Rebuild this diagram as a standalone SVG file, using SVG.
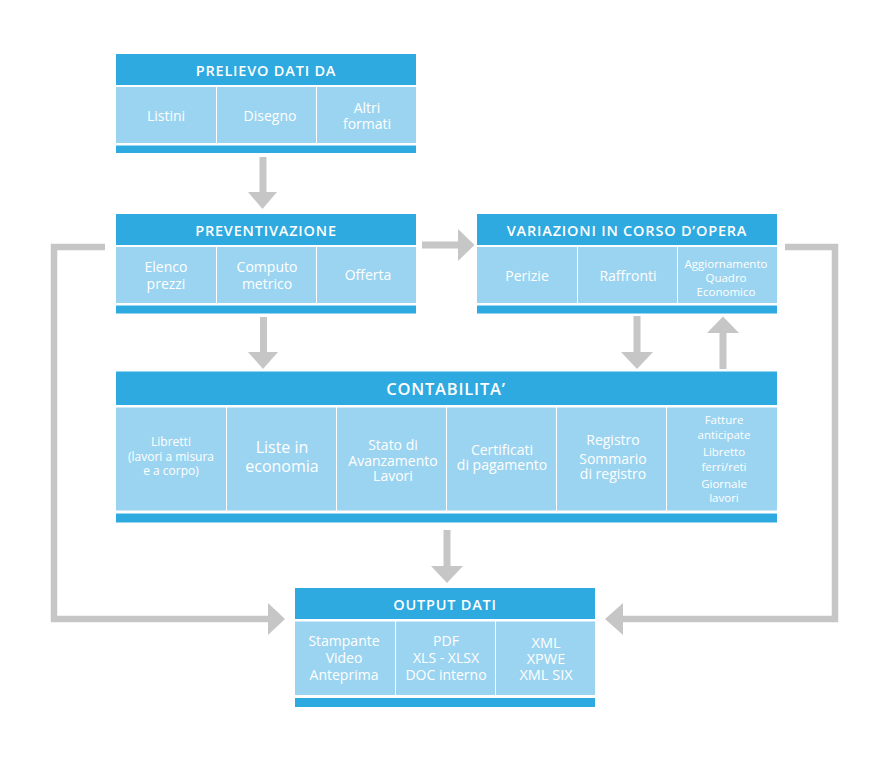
<svg xmlns="http://www.w3.org/2000/svg" width="885" height="762" viewBox="0 0 885 762">
<style>
.hd{fill:#2EAAE1}
.cl{fill:#9BD4F0}
.ht{font-family:"Open Sans","Liberation Sans",sans-serif;font-size:14.5px;font-weight:600;fill:#fff;text-anchor:middle;letter-spacing:0.8px}
.ct{font-family:"Open Sans","Liberation Sans",sans-serif;font-size:14px;fill:#fff;text-anchor:middle}
.sm{font-family:"Open Sans","Liberation Sans",sans-serif;font-size:11.5px;fill:#fff;text-anchor:middle}
.ar{fill:#C6C6C6}
.ln{fill:none;stroke:#C6C6C6;stroke-width:6.5}
</style>
<rect width="885" height="762" fill="#fff"/>
<g id="connectors">
<rect class="ar" x="259.5" y="157" width="7" height="36"/>
<polygon class="ar" points="248,192 277,192 262.5,209"/>
<rect class="ar" x="260" y="317" width="7" height="36"/>
<polygon class="ar" points="248,352 278,352 263,369"/>
<rect class="ar" x="422" y="241.5" width="37" height="7"/>
<polygon class="ar" points="458,229 458,261 474.5,245"/>
<rect class="ar" x="633.5" y="316" width="7" height="37"/>
<polygon class="ar" points="621,352 653,352 637,369"/>
<rect class="ar" x="719.5" y="332" width="7" height="37"/>
<polygon class="ar" points="707,333 739,333 723,316.5"/>
<rect class="ar" x="443.5" y="530" width="7" height="37"/>
<polygon class="ar" points="431,566 463,566 447,583"/>
<polyline class="ln" points="105,247 54,247 54,619 270,619"/>
<polygon class="ar" points="268,603 268,635 285,619"/>
<polyline class="ln" points="785,247 835,247 835,619 621,619"/>
<polygon class="ar" points="623,603 623,635 605,619"/>
</g>
<g id="prelievo">
<rect class="hd" x="116" y="54" width="300" height="31"/>
<rect class="cl" x="116" y="87" width="100" height="56"/>
<rect class="cl" x="217" y="87" width="99" height="56"/>
<rect class="cl" x="317" y="87" width="99" height="56"/>
<rect class="hd" x="116" y="145.5" width="300" height="7.5"/>
<text class="ht" x="266" y="76">PRELIEVO DATI DA</text>
<text class="ct" x="166" y="120.5">Listini</text>
<text class="ct" x="270" y="120.5">Disegno</text>
<text class="ct" x="367" y="113">Altri</text>
<text class="ct" x="367" y="129">formati</text>
</g>
<g id="preventivazione">
<rect class="hd" x="116" y="214" width="300" height="31"/>
<rect class="cl" x="116" y="247" width="100" height="56"/>
<rect class="cl" x="217" y="247" width="99" height="56"/>
<rect class="cl" x="317" y="247" width="99" height="56"/>
<rect class="hd" x="116" y="305.5" width="300" height="8"/>
<text class="ht" x="266" y="236">PREVENTIVAZIONE</text>
<text class="ct" x="166" y="272">Elenco</text>
<text class="ct" x="166" y="289">prezzi</text>
<text class="ct" x="267" y="272">Computo</text>
<text class="ct" x="267" y="289">metrico</text>
<text class="ct" x="368" y="280">Offerta</text>
</g>
<g id="variazioni">
<rect class="hd" x="477" y="214" width="300" height="31"/>
<rect class="cl" x="477" y="247" width="100" height="56"/>
<rect class="cl" x="578" y="247" width="99" height="56"/>
<rect class="cl" x="678" y="247" width="99" height="56"/>
<rect class="hd" x="477" y="305.5" width="300" height="8"/>
<text class="ht" x="627" y="236">VARIAZIONI IN CORSO D’OPERA</text>
<text class="ct" x="527" y="281">Perizie</text>
<text class="ct" x="628" y="281">Raffronti</text>
<text class="sm" x="726" y="268">Aggiornamento</text>
<text class="sm" x="726" y="282">Quadro</text>
<text class="sm" x="726" y="296">Economico</text>
</g>
<g id="contabilita">
<rect class="hd" x="116" y="371.5" width="661" height="33.5"/>
<rect class="cl" x="116" y="407.5" width="110" height="103"/>
<rect class="cl" x="227" y="407.5" width="109" height="103"/>
<rect class="cl" x="337" y="407.5" width="109" height="103"/>
<rect class="cl" x="447" y="407.5" width="109" height="103"/>
<rect class="cl" x="557" y="407.5" width="109" height="103"/>
<rect class="cl" x="667" y="407.5" width="110" height="103"/>
<rect class="hd" x="116" y="513.5" width="661" height="9"/>
<text class="ht" x="446" y="395" style="font-size:16.5px">CONTABILITA’</text>
<text class="sm" x="171" y="446" style="font-size:12px">Libretti</text>
<text class="sm" x="171" y="461" style="font-size:12px">(lavori a misura</text>
<text class="sm" x="171" y="475" style="font-size:12px">e a corpo)</text>
<text class="ct" x="282" y="453" style="font-size:16px">Liste in</text>
<text class="ct" x="282" y="472" style="font-size:16px">economia</text>
<text class="ct" x="393" y="450">Stato di</text>
<text class="ct" x="393" y="466">Avanzamento</text>
<text class="ct" x="393" y="481">Lavori</text>
<text class="ct" x="502" y="455">Certificati</text>
<text class="ct" x="502" y="470">di pagamento</text>
<text class="ct" x="613" y="445">Registro</text>
<text class="ct" x="613" y="464">Sommario</text>
<text class="ct" x="613" y="479">di registro</text>
<text class="sm" x="724" y="424">Fatture</text>
<text class="sm" x="724" y="438.5">anticipate</text>
<text class="sm" x="724" y="455.5">Libretto</text>
<text class="sm" x="724" y="470.5">ferri/reti</text>
<text class="sm" x="724" y="488">Giornale</text>
<text class="sm" x="724" y="502">lavori</text>
</g>
<g id="output">
<rect class="hd" x="295" y="588" width="300" height="31"/>
<rect class="cl" x="295" y="621.5" width="100" height="73.5"/>
<rect class="cl" x="396" y="621.5" width="99" height="73.5"/>
<rect class="cl" x="496" y="621.5" width="99" height="73.5"/>
<rect class="hd" x="295" y="698" width="300" height="9"/>
<text class="ht" x="445" y="610">OUTPUT DATI</text>
<text class="ct" x="344" y="646">Stampante</text>
<text class="ct" x="344" y="663">Video</text>
<text class="ct" x="344" y="679.5">Anteprima</text>
<text class="ct" x="446" y="646">PDF</text>
<text class="ct" x="446" y="663">XLS - XLSX</text>
<text class="ct" x="446" y="679.5">DOC interno</text>
<text class="ct" x="546" y="648" style="font-size:14.5px">XML</text>
<text class="ct" x="546" y="664" style="font-size:14.5px">XPWE</text>
<text class="ct" x="546" y="680" style="font-size:14.5px">XML SIX</text>
</g>
</svg>
